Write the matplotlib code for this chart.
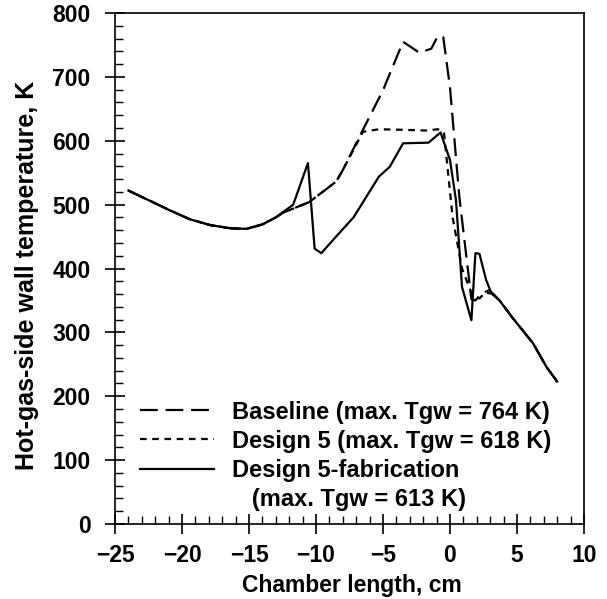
import matplotlib
matplotlib.use("Agg")
import matplotlib.pyplot as plt
from matplotlib.lines import Line2D
from matplotlib.ticker import MultipleLocator

plt.rcParams['font.family'] = ['Liberation Sans', 'DejaVu Sans']
plt.rcParams['font.weight'] = 'bold'
plt.rcParams['axes.labelweight'] = 'bold'

# wall temperature along the chamber, common inlet section
x_common = [-24.0, -22.2, -20.9, -19.4, -17.9, -16.4, -15.2, -14.0, -13.0]
t_common = [522, 504, 491, 477, 468, 463, 462, 469, 480]

# baseline
x_base = [-12.5, -10.5, -8.5, -8.0, -6.5, -5.0, -3.5, -2.3, -1.4, -0.9, -0.5,
          0.0, 0.7, 1.6, 1.9, 2.3, 2.9, 3.2]
t_base = [487, 504, 536, 554, 617, 679, 755, 738, 744, 764, 762,
          684, 512, 352, 350, 360, 366, 361]

# design 5
x_d5 = [-12.5, -10.5, -8.5, -8.0, -6.5, -5.3, -3.3, -1.8, -0.9, -0.45,
        0.2, 0.9, 1.6, 1.9, 2.2, 2.6, 3.1]
t_d5 = [487, 504, 536, 554, 614, 618, 617, 616, 618, 613,
        480, 400, 362, 356, 353, 362, 361]

# design 5 with fabrication features
x_fab = [-11.7, -10.6, -10.1, -9.6, -8.5, -7.2, -5.3, -4.5, -3.5, -1.6, -0.7,
         0.0, 0.45, 0.9, 1.6, 1.9, 2.2, 2.7, 3.1]
t_fab = [500, 565, 431, 424, 450, 480, 544, 559, 596, 597, 613,
         570, 507, 371, 319, 424, 423, 382, 361]

# shared outlet section
x_out = [3.7, 4.7, 6.2, 7.2, 8.0]
t_out = [350, 322, 283, 246, 223]

fig = plt.figure(figsize=(6.07, 5.99), dpi=100)
ax = fig.add_axes([0.1895, 0.1252, 0.7725, 0.8531])

lw = 1.6
ax.plot(x_common + x_base + x_out, t_common + t_base + t_out,
        color='black', lw=lw, dashes=(8, 3.5))
ax.plot(x_common + x_d5 + x_out, t_common + t_d5 + t_out,
        color='black', lw=lw, dashes=(3, 2.5))
ax.plot(x_common + x_fab + x_out, t_common + t_fab + t_out,
        color='black', lw=lw)

ax.set_xlim(-25, 10)
ax.set_ylim(0, 800)
ax.xaxis.set_major_locator(MultipleLocator(5))
ax.xaxis.set_minor_locator(MultipleLocator(1))
ax.yaxis.set_major_locator(MultipleLocator(100))
ax.yaxis.set_minor_locator(MultipleLocator(20))
ax.tick_params(which='major', direction='inout', length=15, width=1.2,
               labelsize=16.5)
ax.tick_params(axis='x', which='major', pad=7)
ax.tick_params(axis='y', which='major', pad=10)
ax.tick_params(which='minor', direction='in', length=6, width=1.0)
for s in ax.spines.values():
    s.set_linewidth(1.2)

ax.set_xlabel('Chamber length, cm', fontsize=16.5)
ax.set_ylabel('Hot-gas-side wall temperature, K', fontsize=18)
ax.xaxis.set_label_coords(0.505, -0.097)
ax.yaxis.set_label_coords(-0.162, 0.487)

handles = [
    Line2D([], [], color='black', lw=lw, dashes=(8, 3.5)),
    Line2D([], [], color='black', lw=lw, dashes=(3, 2.5)),
    Line2D([], [], color='black', lw=lw),
    Line2D([], [], color='none'),
]
labels = [
    'Baseline (max. Tgw = 764 K)',
    'Design 5 (max. Tgw = 618 K)',
    'Design 5-fabrication',
    '   (max. Tgw = 613 K)',
]
ax.legend(handles, labels, loc='lower left', bbox_to_anchor=(0.008, -0.016),
          frameon=False, handlelength=3.15, handletextpad=0.75,
          labelspacing=0.26, prop={'size': 17, 'weight': 'bold'})

fig.savefig('out.png', dpi=100)
